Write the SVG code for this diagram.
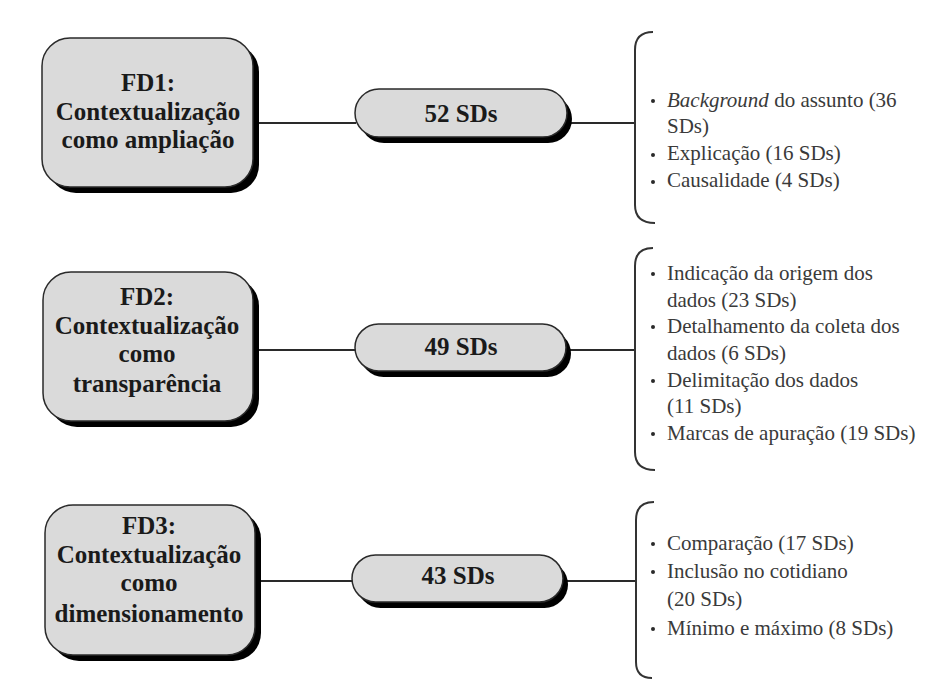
<svg xmlns="http://www.w3.org/2000/svg" width="929" height="679" viewBox="0 0 929 679">
<style>
.shadow{fill:#000}
.box{fill:#dadada;stroke:#2a2a2a;stroke-width:1.5}
.t{font-family:"Liberation Serif","Times New Roman",serif;font-weight:bold;font-size:25px;fill:#1a1a1a;text-anchor:middle}
.li{font-family:"Liberation Serif","Times New Roman",serif;font-size:21px;fill:#3a3a3a}
.ln{stroke:#2a2a2a;stroke-width:2;fill:none}
.br{stroke:#333;stroke-width:2;fill:none}
.dot{fill:#2a2a2a}
</style>
<rect width="929" height="679" fill="#fff"/>
<g id="connectors">
<line class="ln" x1="254" y1="123" x2="356" y2="123"/>
<line class="ln" x1="568" y1="123" x2="635" y2="123"/>
<line class="ln" x1="254" y1="350" x2="356" y2="350"/>
<line class="ln" x1="568" y1="350" x2="635" y2="350"/>
<line class="ln" x1="256" y1="581" x2="353" y2="581"/>
<line class="ln" x1="565" y1="581" x2="636" y2="581"/>
</g>
<g id="fd1">
<rect class="shadow" x="48" y="44" width="211" height="149" rx="28"/>
<rect class="box" x="42" y="38" width="211" height="149" rx="28"/>
<text class="t" x="148" y="91">FD1:</text>
<text class="t" x="148" y="120">Contextualização</text>
<text class="t" x="148" y="148">como ampliação</text>
</g>
<g id="fd2">
<rect class="shadow" x="49" y="278" width="210" height="149" rx="28"/>
<rect class="box" x="43" y="272" width="210" height="149" rx="28"/>
<text class="t" x="147" y="305">FD2:</text>
<text class="t" x="147" y="334">Contextualização</text>
<text class="t" x="147" y="362">como</text>
<text class="t" x="147" y="392">transparência</text>
</g>
<g id="fd3">
<rect class="shadow" x="51" y="511" width="210" height="150" rx="28"/>
<rect class="box" x="45" y="505" width="210" height="150" rx="28"/>
<text class="t" x="149" y="534">FD3:</text>
<text class="t" x="149" y="563">Contextualização</text>
<text class="t" x="149" y="591">como</text>
<text class="t" x="149" y="622">dimensionamento</text>
</g>
<g id="sd52">
<rect class="shadow" x="360" y="95" width="212" height="48" rx="24"/>
<rect class="box" x="355" y="89" width="212" height="48" rx="24"/>
<text class="t" x="461" y="122">52 SDs</text>
</g>
<g id="sd49">
<rect class="shadow" x="360" y="330" width="211" height="47" rx="23.5"/>
<rect class="box" x="355" y="324" width="211" height="47" rx="23.5"/>
<text class="t" x="461" y="355">49 SDs</text>
</g>
<g id="sd43">
<rect class="shadow" x="357" y="561" width="211" height="47" rx="23.5"/>
<rect class="box" x="352" y="555" width="211" height="47" rx="23.5"/>
<text class="t" x="458" y="584">43 SDs</text>
</g>
<g id="list1">
<path class="br" d="M653 32 Q635 32 635 50 L635 205 Q635 223 655 223"/>
<circle class="dot" cx="653" cy="101" r="2"/>
<circle class="dot" cx="653" cy="155" r="2"/>
<circle class="dot" cx="653" cy="182" r="2"/>
<text class="li" x="667" y="107"><tspan font-style="italic">Background</tspan> do assunto (36</text>
<text class="li" x="667" y="133">SDs)</text>
<text class="li" x="667" y="160">Explicação (16 SDs)</text>
<text class="li" x="667" y="187">Causalidade (4 SDs)</text>
</g>
<g id="list2">
<path class="br" d="M653 248 Q635 248 635 266 L635 452 Q635 470 655 470"/>
<circle class="dot" cx="653" cy="274" r="2"/>
<circle class="dot" cx="653" cy="327" r="2"/>
<circle class="dot" cx="653" cy="381" r="2"/>
<circle class="dot" cx="653" cy="434" r="2"/>
<text class="li" x="667" y="280">Indicação da origem dos</text>
<text class="li" x="667" y="307">dados (23 SDs)</text>
<text class="li" x="667" y="333">Detalhamento da coleta dos</text>
<text class="li" x="667" y="360">dados (6 SDs)</text>
<text class="li" x="667" y="387">Delimitação dos dados</text>
<text class="li" x="667" y="413">(11 SDs)</text>
<text class="li" x="667" y="440">Marcas de apuração (19 SDs)</text>
</g>
<g id="list3">
<path class="br" d="M654 502 Q636 502 636 520 L636 662 Q636 678 652 678"/>
<circle class="dot" cx="653" cy="544" r="2"/>
<circle class="dot" cx="653" cy="572" r="2"/>
<circle class="dot" cx="653" cy="629" r="2"/>
<text class="li" x="667" y="550">Comparação (17 SDs)</text>
<text class="li" x="667" y="578">Inclusão no cotidiano</text>
<text class="li" x="667" y="606">(20 SDs)</text>
<text class="li" x="667" y="635">Mínimo e máximo (8 SDs)</text>
</g>
</svg>
